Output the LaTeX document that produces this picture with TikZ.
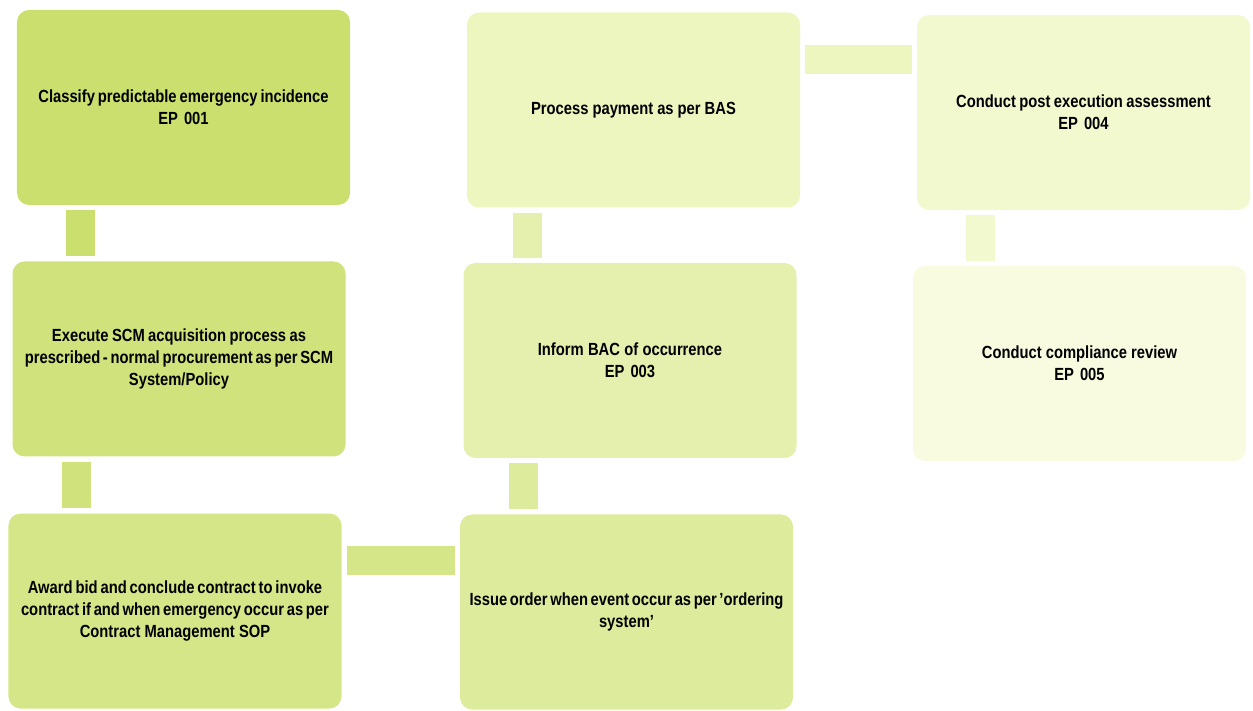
\documentclass[tikz,border=0pt]{standalone}
\usepackage{fontspec}
\setmainfont{Liberation Sans}[FakeStretch=0.84]
\usepackage{tikz}
\usepackage{xcolor}

\definecolor{stepA}{HTML}{CADF6E}
\definecolor{stepB}{HTML}{D0E27C}
\definecolor{stepC}{HTML}{D5E688}
\definecolor{stepD}{HTML}{DDEB9C}
\definecolor{stepE}{HTML}{E5F0AE}
\definecolor{stepF}{HTML}{EEF6C0}
\definecolor{stepG}{HTML}{F3F9CF}
\definecolor{stepH}{HTML}{F8FBE0}

\newcommand\boxfont{\bfseries\fontsize{10}{12.5}\selectfont}
\newcommand\tightwords{\spaceskip=0.14em plus 0.05em\relax}

\tikzset{
  stepbox/.style={rectangle,rounded corners=0.24cm,minimum width=6.66cm,minimum height=3.9cm,
    text width=6.6cm,align=center,inner sep=0pt,font=\boxfont,execute at begin node=\tightwords},
  link/.style={line width=0.58cm,shorten <=0.1cm,shorten >=0.1cm}
}

\begin{document}
\begin{tikzpicture}
\useasboundingbox (0,0) rectangle (25.06,14.2);
\node[stepbox,fill=stepA] (b1) at (3.67,12.05) {Classify predictable emergency incidence\\EP 001};
\node[stepbox,fill=stepB] (b2) at (3.58,7.02) {Execute SCM acquisition process as\\prescribed - normal procurement as per SCM\\System/Policy};
\node[stepbox,fill=stepC] (b3) at (3.50,1.98) {Award bid and conclude contract to invoke\\contract if and when emergency occur as per\\Contract Management SOP};
\node[stepbox,fill=stepD] (b4) at (12.53,1.96) {Issue order when event occur as per 'ordering\\system'};
\node[stepbox,fill=stepE] (b5) at (12.60,6.99) {Inform BAC of occurrence\\EP 003};
\node[stepbox,fill=stepF] (b6) at (12.67,12.00) {Process payment as per BAS};
\node[stepbox,fill=stepG] (b7) at (21.67,11.95) {Conduct post execution assessment\\EP 004};
\node[stepbox,fill=stepH] (b8) at (21.59,6.93) {Conduct compliance review\\EP 005};
% link anchors
\coordinate (l1) at ([xshift=1.28cm]b1.south west);
\coordinate (l2) at ([xshift=1.28cm]b2.south west);
\coordinate (l3) at ([yshift=-0.95cm]b3.north east);
\coordinate (l4) at ([xshift=1.28cm]b4.north west);
\coordinate (l5) at ([xshift=1.28cm]b5.north west);
\coordinate (l6) at ([yshift=-0.95cm]b6.north east);
\coordinate (l7) at ([xshift=1.28cm]b7.south west);
% links
\draw[link,stepA] (l1) -- (l1 |- b2.north);
\draw[link,stepB] (l2) -- (l2 |- b3.north);
\draw[link,stepC] (l3) -- (l3 -| b4.west);
\draw[link,stepD] (l4) -- (l4 |- b5.south);
\draw[link,stepE] (l5) -- (l5 |- b6.south);
\draw[link,stepF] (l6) -- (l6 -| b7.west);
\draw[link,stepG] (l7) -- (l7 |- b8.north);
\end{tikzpicture}
\end{document}
